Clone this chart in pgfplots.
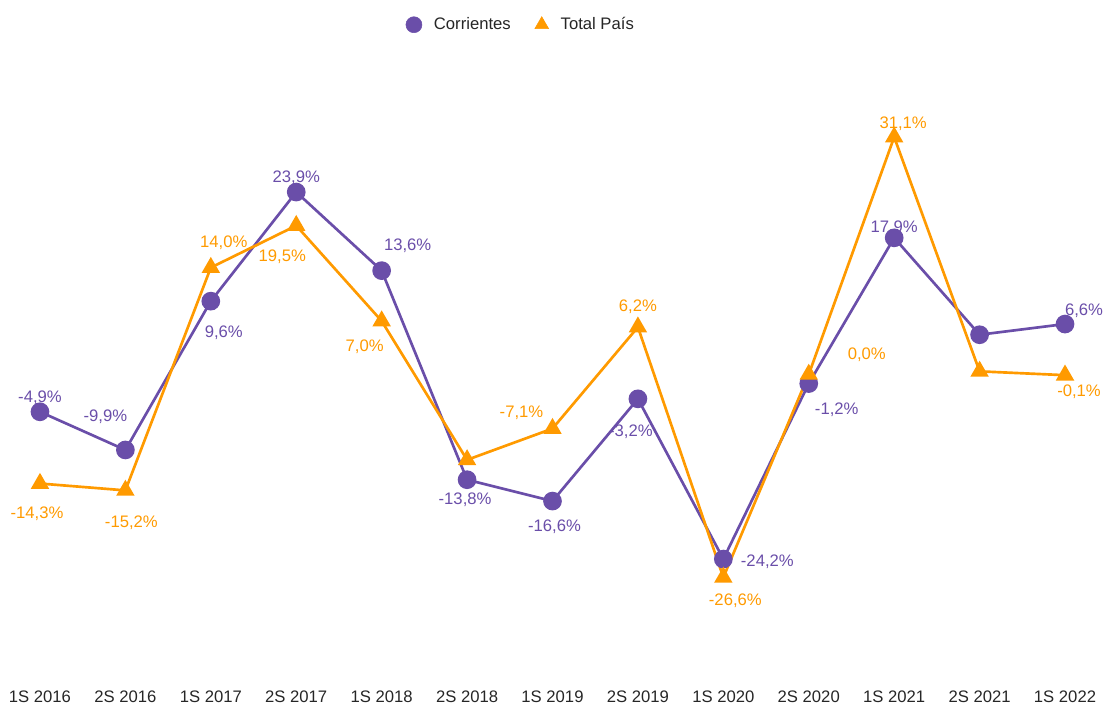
\documentclass[border=0pt]{standalone}
\usepackage{fontspec}
\setmainfont{Liberation Sans}
\usepackage{pgfplots}
\usepackage{pgfplotstable}
\pgfplotsset{compat=1.18}
\definecolor{corr}{HTML}{6A4EA9}
\definecolor{pais}{HTML}{FF9A00}

% x y  dx dy (label offset, px, up positive)  op (label shown)
\pgfplotstableread{
x  y      dx   dy   op
0  -4.9    0    14   1
1  -9.9   -20   33   1
2   9.6    13  -32   1
3  23.9    0    14   1
4  13.6    26   25   1
5  -13.8  -2   -20   1
6  -16.6   2   -26   1
7  -3.2   -7   -33   1
8  -24.2   44  -3    1
9  -1.2    28  -26   1
10 17.9    0    10   1
11  5.2    0    0    0
12  6.6    19   13   1
}\corrientes

\pgfplotstableread{
x  y      dx   dy   op
0  -14.3  -3   -30   1
1  -15.2   6   -32   1
2  14.0    13   25   1
3  19.5   -14  -31   1
4   7.0   -17  -26   1
5  -11.2   0    0    0
6  -7.1   -31   16   1
7   6.2    0    20   1
8  -26.6   12  -23   1
9   0.0    58   20   1
10 31.1    9    13   1
11  0.4    0    0    0
12 -0.1    14  -17   1
}\totalpais

\pgfplotsset{
    labelled/.style={
        visualization depends on={\thisrow{dx} \as \dx},
        visualization depends on={\thisrow{dy} \as \dy},
        visualization depends on={\thisrow{op} \as \op},
        point meta=y,
        nodes near coords={\pgfmathprintnumber[fixed,fixed zerofill,precision=1,use comma,assume math mode=true]{\pgfplotspointmeta}\%},
        nodes near coords style={anchor=center, xshift=\dx*0.75pt, yshift=\dy*0.75pt,
            text opacity=\op, font=\fontsize{12.5}{15}\selectfont, text=#1},
    },
}

\begin{document}
\begin{tikzpicture}
\begin{axis}[
    scale only axis,
    width=831.75pt, height=508pt,
    xmin=-0.468, xmax=12.515,
    ymin=-39.70, ymax=49.07,
    hide y axis,
    x axis line style={draw=none},
    tick style={draw=none},
    major tick length=0pt,
    xtick={0,...,12},
    xticklabels={1S 2016,2S 2016,1S 2017,2S 2017,1S 2018,2S 2018,1S 2019,2S 2019,1S 2020,2S 2020,1S 2021,2S 2021,1S 2022},
    xticklabel style={font=\fontsize{12.5}{15}\selectfont, text=black!85,
        inner sep=0pt, text depth=2.5pt, yshift=-10pt},
    clip=false,
    legend columns=2,
    legend cell align=left,
    legend style={at={(0.47,1)}, anchor=north, yshift=-9pt, draw=none,
        font=\fontsize{12.5}{15}\selectfont, text=black!85,
        /tikz/every odd column/.append style={column sep=7pt},
        /tikz/every even column/.append style={column sep=16pt}},
]
\addlegendimage{only marks, mark=*, mark size=6pt, color=corr}
\addlegendentry{Corrientes}
\addlegendimage{only marks, mark=triangle*, mark size=6pt, color=pais}
\addlegendentry{Total País}

\addplot[forget plot, color=corr, line width=2pt, mark=*, mark size=6pt,
    labelled=corr] table[x=x, y=y] {\corrientes};
\addplot[forget plot, color=pais, line width=2pt, mark=triangle*, mark size=6pt,
    labelled=pais] table[x=x, y=y] {\totalpais};
\end{axis}
\end{tikzpicture}
\end{document}
